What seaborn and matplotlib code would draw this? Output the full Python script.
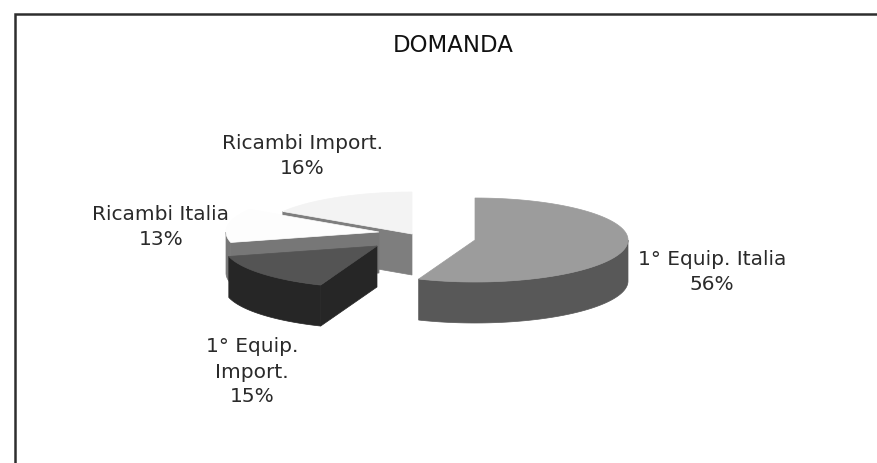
import numpy as np
import seaborn as sns
import matplotlib.pyplot as plt
from matplotlib.patches import Polygon

# Data
categories = ["Ricambi Import.", "Ricambi Italia", "1° Equip. Import.", "1° Equip. Italia"]
display_names = ["Ricambi Import.", "Ricambi Italia", "1° Equip.\nImport.", "1° Equip. Italia"]
shares = [16, 13, 15, 56]

# Styles (grey shades: top face, side face)
top_colors = ["#f3f3f3", "#fdfdfd", "#545454", "#9c9c9c"]
side_colors = ["#7e7e7e", "#777777", "#262626", "#585858"]

# Layout (pixel space): slice centres after explosion, label anchors
centres = [(412, 234), (379, 232), (377, 246), (475, 240)]
label_pos = [(302, 156), (161, 227), (252, 372), (712, 272)]
rx, ry, depth = 153, 42, 41


def pt(c, t, dz=0.0):
    r = np.radians(t)
    return (c[0] + rx * np.cos(r), c[1] - ry * np.sin(r) + dz)


def draw_slice(ax, c, t1, t2, top, side):
    ts = np.linspace(t1, t2, 200)
    # outer wall, only the part facing the viewer
    front = np.sin(np.radians(ts)) < 0
    if front.any():
        tf = ts[front]
        upper = [pt(c, t) for t in tf]
        lower = [pt(c, t, depth) for t in tf[::-1]]
        ax.add_patch(Polygon(upper + lower, closed=True, fc=side, ec=side, lw=0.5))
    # cut faces
    if np.cos(np.radians(t1)) > 1e-6:
        q = [c, pt(c, t1), pt(c, t1, depth), (c[0], c[1] + depth)]
        ax.add_patch(Polygon(q, closed=True, fc=side, ec=side, lw=0.5))
    if np.cos(np.radians(t2)) < -1e-6:
        q = [c, pt(c, t2), pt(c, t2, depth), (c[0], c[1] + depth)]
        ax.add_patch(Polygon(q, closed=True, fc=side, ec=side, lw=0.5))
    # top face
    rim = [c] + [pt(c, t) for t in ts]
    ax.add_patch(Polygon(rim, closed=True, fc=top, ec=top, lw=0.5))


def main():
    sns.set_theme(style="white")
    plt.rcParams['font.family'] = ['DejaVu Sans']

    fig = plt.figure(figsize=(8.77, 4.63), dpi=100)
    ax = fig.add_axes([0, 0, 1, 1])
    ax.set_xlim(0, 877)
    ax.set_ylim(463, 0)
    ax.axis('off')

    # frame (left + top only visible)
    ax.plot([15, 15, 877], [463, 14, 14], color="#2e2e2e", lw=1.8, solid_joinstyle='miter')

    # angles: counter-clockwise starting at 12 o'clock
    total = sum(shares)
    bounds = 90 + 360 * np.concatenate([[0], np.cumsum(shares)]) / total
    for i in range(len(shares)):
        draw_slice(ax, centres[i], bounds[i], bounds[i + 1], top_colors[i], side_colors[i])

    for name, val, (x, y) in zip(display_names, shares, label_pos):
        ax.text(x, y, f"{name}\n{val}%", ha='center', va='center', fontsize=14.5,
                color="#2a2a2a", linespacing=1.4)

    ax.text(453, 45, "DOMANDA", ha='center', va='center', fontsize=16.5, color="#111111")

    fig.savefig("out.png", dpi=100)
    plt.close(fig)


if __name__ == "__main__":
    main()
